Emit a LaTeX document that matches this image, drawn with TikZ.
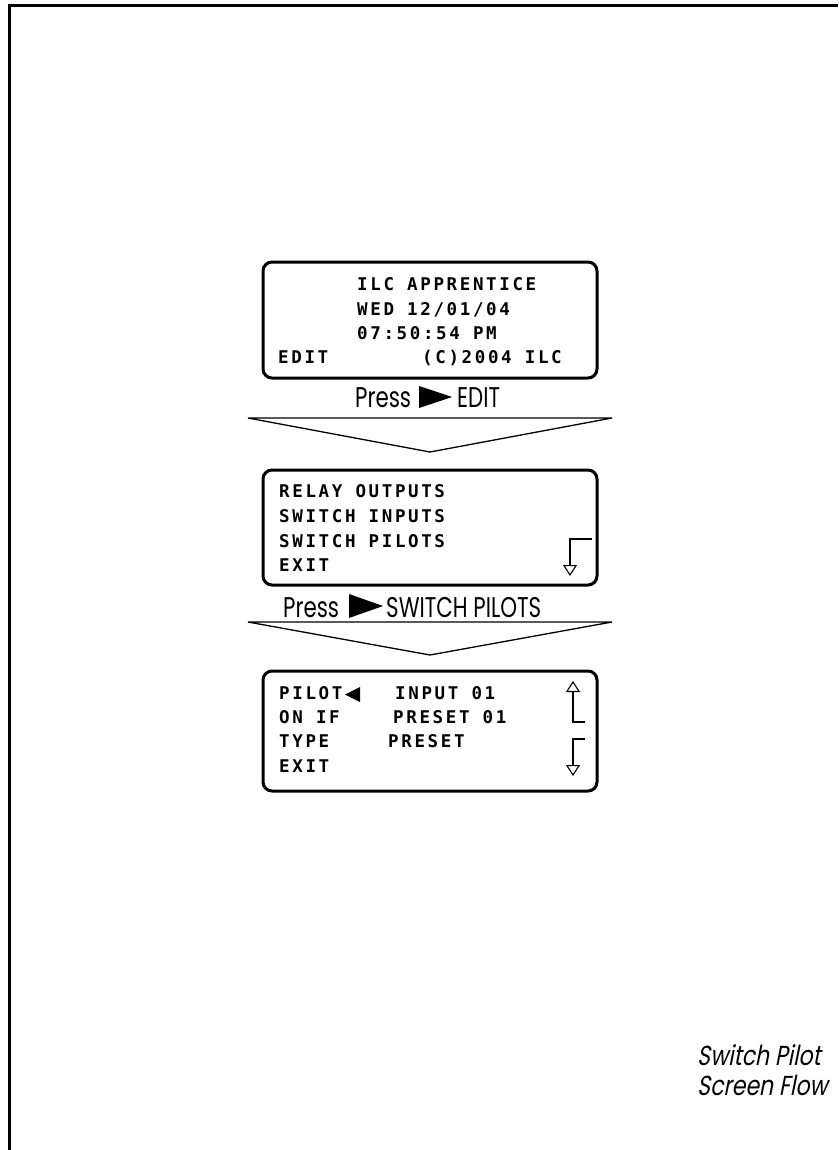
\documentclass[tikz,border=0pt]{standalone}
\usepackage{fontspec}
\usepackage{tikz}
\usetikzlibrary{arrows.meta}
\newfontfamily\lcdfont{DejaVu Sans Mono Bold}[LetterSpace=15]
\newfontfamily\pressfont{Poppins}[FakeStretch=0.75]
\newfontfamily\notefont{Poppins}[FakeSlant=0.2,FakeStretch=0.8]

\begin{document}
\begin{tikzpicture}[
  x=1pt, y=-1pt,
  screen/.style={rectangle, draw, rounded corners=9pt, line width=3pt, minimum width=334pt, inner sep=0pt},
  lcd/.style={anchor=base west, inner sep=0pt, font=\lcdfont\fontsize{17.5}{20}\selectfont},
  press/.style={anchor=base west, inner sep=0pt, font=\pressfont\fontsize{28.5}{30}\selectfont},
  chevron/.style={line width=1.3pt, line join=miter},
  scroll/.style={line width=1.1pt, -{Triangle[open, width=14pt, length=11pt]}},
  >=Stealth
]
  \useasboundingbox (0,0) rectangle (838,1150);
  \draw[line width=3pt, line join=miter] (9.5,1150) -- (9.5,6) -- (838,6);

  % start screen
  \node[screen, minimum height=116pt] (home) at (430,320) {};
  \node[lcd] (title) at (357,290) {ILC APPRENTICE};
  \node[lcd] (date) at (357,315) {WED 12/01/04};
  \node[lcd] (time) at (357,339) {07:50:54 PM};
  \node[lcd] (edit) at (278,363) {EDIT};
  \node[lcd] (copy) at (422,363) {(C)2004 ILC};

  \node[press] (pressa) at (355,407) {Press};
  \fill (419,386) -- (452,397) -- (419,408) -- cycle;
  \node[press] (pressedit) at (457,407) {EDIT};
  \draw[chevron] (248,418) -- (612,418) -- (430,452) -- cycle;

  % edit menu
  \node[screen, minimum height=115pt] (menu) at (430,527.5) {};
  \node[lcd] (relay) at (279,497) {RELAY OUTPUTS};
  \node[lcd] (inputs) at (279,522) {SWITCH INPUTS};
  \node[lcd] (pilots) at (279,547) {SWITCH PILOTS};
  \node[lcd] (exita) at (279,571) {EXIT};
  \coordinate (downa) at (592,539);
  \coordinate (downaend) at (570,576);
  \draw[scroll] (downa) -| (downaend);

  \node[press] (pressb) at (283,617) {Press};
  \fill (349,594) -- (383,606) -- (349,618) -- cycle;
  \node[press] (presspilots) at (386,617) {SWITCH PILOTS};
  \draw[chevron] (248,622) -- (612,622) -- (430,655) -- cycle;

  % pilot screen
  \node[screen, minimum height=120pt] (pilot) at (430,731) {};
  \node[lcd] (pilotlbl) at (279,699) {PILOT};
  \fill (345,694.5) -- (360,687) -- (360,702) -- cycle;
  \node[lcd] (pilotval) at (395,699) {INPUT 01};
  \node[lcd] (onif) at (279,723) {ON IF};
  \node[lcd] (onifval) at (393,723) {PRESET 01};
  \node[lcd] (type) at (279,747) {TYPE};
  \node[lcd] (typeval) at (388,747) {PRESET};
  \node[lcd] (exitb) at (279,772) {EXIT};
  \coordinate (upb) at (585,722);
  \coordinate (upbend) at (573,681);
  \draw[scroll] (upb) -| (upbend);
  \coordinate (downb) at (585,739);
  \coordinate (downbend) at (573,776);
  \draw[scroll] (downb) -| (downbend);

  \node[anchor=base west, inner sep=0pt, align=left, font=\notefont\fontsize{27.5}{30}\selectfont] (note) at (697,1095)
    {Switch Pilot\\Screen Flow};
\end{tikzpicture}
\end{document}
